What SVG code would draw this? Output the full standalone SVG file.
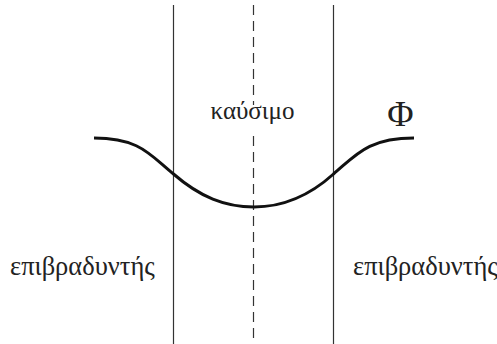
<svg xmlns="http://www.w3.org/2000/svg" width="497" height="344" viewBox="0 0 497 344">
<style>
.t{font-family:"Liberation Serif","DejaVu Serif",serif;fill:#222}
.ln{stroke:#333;stroke-width:1.2;fill:none}
.dash{stroke-dasharray:10,6}
</style>
<rect width="497" height="344" fill="#fff"/>
<g id="lines">
<line class="ln" x1="173.5" y1="5" x2="173.5" y2="344"/>
<line class="ln" x1="333.5" y1="5" x2="333.5" y2="344"/>
<line class="ln dash" x1="253.5" y1="5" x2="253.5" y2="105"/>
<line class="ln dash" x1="253.5" y1="136" x2="253.5" y2="344"/>
</g>
<g id="curve">
<path d="M94,138 C140,138 150,155 173.5,174 C200,197 225,207 254,207 C283,207 308,197 333.5,174 C356,155 368,138 414,138" stroke="#111" stroke-width="3" fill="none"/>
</g>
<g id="labels">
<text class="t" x="252.5" y="119" font-size="25" text-anchor="middle">καύσιμο</text>
<text class="t" x="400.5" y="126" font-size="36" text-anchor="middle">Φ</text>
<text class="t" x="10" y="275" font-size="26.5">επιβραδυντής</text>
<text class="t" x="353" y="275" font-size="26.5">επιβραδυντής</text>
</g>
</svg>
